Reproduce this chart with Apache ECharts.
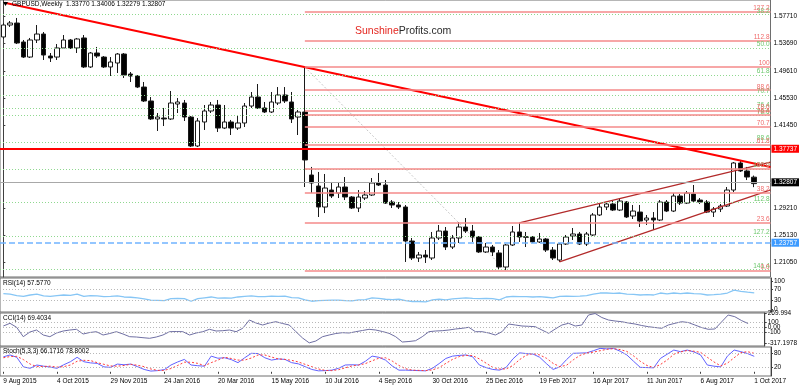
<!DOCTYPE html>
<html><head><meta charset="utf-8">
<script src="https://cdn.jsdelivr.net/npm/echarts@6/dist/echarts.min.js"></script>
<style>html,body{margin:0;padding:0;background:#fff}#c{width:800px;height:386px}</style>
</head><body><div id="c"></div>
<script>
// ---------- data ----------
const dateLabels = ['9 Aug 2015','4 Oct 2015','29 Nov 2015','24 Jan 2016','20 Mar 2016','15 May 2016','10 Jul 2016','4 Sep 2016','30 Oct 2016','25 Dec 2016','19 Feb 2017','16 Apr 2017','11 Jun 2017','6 Aug 2017','1 Oct 2017'];
const opens = [
1.5466,1.5644,1.5674,1.5391,1.5167,1.5421,1.5510,1.5182,1.5167,1.5302,
1.5421,1.5302,1.5451,1.5019,1.5227,1.5167,1.5019,1.5078,1.5212,1.4914,
1.4884,1.4720,1.4512,1.4244,1.4258,1.4244,1.4467,1.4482,1.4273,1.3841,
1.4199,1.4363,1.4452,1.4109,1.4199,1.4109,1.4184,1.4437,1.4571,1.4408,
1.4348,1.4482,1.4601,1.4497,1.4273,1.4348,1.3409,1.3245,1.2932,1.3185,
1.3140,1.3230,1.3081,1.2917,1.3066,1.3111,1.3290,1.3260,1.3006,1.2962,
1.2932,1.2425,1.2172,1.2217,1.2172,1.2470,1.2574,1.2336,1.2470,1.2634,
1.2574,1.2485,1.2262,1.2336,1.2247,1.2038,1.2366,1.2560,1.2480,1.2485,
1.2411,1.2455,1.2291,1.2142,1.2381,1.2500,1.2530,1.2381,1.2515,1.2813,
1.2932,1.2977,1.2887,1.3006,1.2798,1.2857,1.2738,1.2768,1.2738,1.3006,
1.2872,1.3096,1.2991,1.3126,1.3036,1.3006,1.2857,1.2902,1.2947,1.3185,
1.3588,1.3469,1.33770];
const closes = [
1.5644,1.5674,1.5376,1.5167,1.5421,1.5510,1.5197,1.5153,1.5302,1.5421,
1.5302,1.5436,1.5019,1.5227,1.5182,1.5019,1.5093,1.5212,1.4899,1.4884,
1.4720,1.4512,1.4244,1.4273,1.4244,1.4482,1.4497,1.4273,1.3841,1.4214,
1.4363,1.4452,1.4109,1.4199,1.4109,1.4184,1.4437,1.4571,1.4408,1.4348,
1.4497,1.4601,1.4512,1.4244,1.4348,1.3633,1.3290,1.2932,1.3215,1.3096,
1.3230,1.3081,1.2917,1.3081,1.3111,1.3290,1.3260,1.2991,1.2962,1.2932,
1.2425,1.2172,1.2217,1.2187,1.2470,1.2574,1.2336,1.2470,1.2634,1.2574,
1.2485,1.2262,1.2336,1.2262,1.2038,1.2366,1.2560,1.2485,1.2490,1.2411,
1.2455,1.2291,1.2172,1.2381,1.2485,1.2530,1.2381,1.2530,1.2813,1.2932,
1.2977,1.2887,1.3021,1.2783,1.2872,1.2723,1.2768,1.2738,1.3006,1.2872,
1.3096,1.2991,1.3140,1.3021,1.3006,1.2857,1.2902,1.2947,1.3185,1.3588,
1.3469,1.3379,1.32807];
const lows = [
1.5436,1.5615,1.5361,1.5153,1.5153,1.5376,1.5123,1.5093,1.5123,1.5287,
1.5287,1.5227,1.5004,1.5004,1.5153,1.5004,1.4884,1.4929,1.4855,1.4795,
1.4705,1.4497,1.4229,1.4065,1.4139,1.4229,1.4333,1.4214,1.3826,1.3826,
1.4080,1.4333,1.4050,1.4094,1.4005,1.4080,1.4124,1.4408,1.4393,1.4333,
1.4333,1.4452,1.4482,1.4184,1.4005,1.3230,1.3140,1.2783,1.2842,1.3066,
1.3066,1.3036,1.2902,1.2857,1.3036,1.3096,1.3245,1.2977,1.2917,1.2902,
1.2113,1.2142,1.2113,1.2098,1.2142,1.2440,1.2291,1.2306,1.2396,1.2545,
1.2411,1.2247,1.2247,1.2202,1.2008,1.1993,1.2351,1.2411,1.2336,1.2396,
1.2396,1.2262,1.2142,1.2113,1.2366,1.2440,1.2366,1.2351,1.2500,1.2798,
1.2887,1.2872,1.2872,1.2768,1.2753,1.2634,1.2664,1.2589,1.2723,1.2857,
1.2857,1.2962,1.2977,1.3006,1.2977,1.2842,1.2783,1.2857,1.2932,1.3155,
1.3454,1.3334,1.32279];
const highs = [
1.5674,1.5704,1.5749,1.5421,1.5451,1.5644,1.5540,1.5227,1.5361,1.5495,
1.5436,1.5451,1.5495,1.5242,1.5317,1.5182,1.5167,1.5227,1.5227,1.4944,
1.4899,1.4795,1.4571,1.4333,1.4408,1.4661,1.4556,1.4527,1.4288,1.4258,
1.4452,1.4497,1.4527,1.4452,1.4229,1.4303,1.4482,1.4646,1.4765,1.4497,
1.4646,1.4720,1.4720,1.4646,1.4378,1.5004,1.3529,1.3454,1.3424,1.3305,
1.3305,1.3379,1.3096,1.3185,1.3170,1.3364,1.3439,1.3334,1.3036,1.3006,
1.2962,1.2470,1.2262,1.2291,1.2560,1.2664,1.2634,1.2515,1.2708,1.2768,
1.2664,1.2500,1.2396,1.2366,1.2291,1.2381,1.2649,1.2694,1.2560,1.2500,
1.2545,1.2470,1.2336,1.2396,1.2515,1.2619,1.2560,1.2560,1.2842,1.2991,
1.3006,1.3021,1.3066,1.3021,1.2962,1.2962,1.2813,1.2857,1.3036,1.3036,
1.3140,1.3126,1.3170,1.3260,1.3066,1.3036,1.2932,1.2977,1.3230,1.3603,
1.3633,1.3529,1.34006];
const rsi = [
55,53,48,45,50,53,47,45,48,50,
49,53,45,48,47,44,45,47,43,42,
40,36,32,31,30,37,38,37,28,37,
40,43,39,40,39,43,45,47,44,44,
46,45,46,41,40,33,28,30,31,32,
32,30,29,33,34,40,38,35,34,35,
30,27,27,26,33,35,33,36,38,40,
38,37,38,37,33,43,45,44,44,43,
44,42,40,45,46,45,46,48,53,57,
57,56,57,53,52,50,51,50,57,54,
57,55,57,55,54,50,51,53,57,67,
63,60,57.577];
const cci = [
20,74,-6,-194,-100,-60,-160,-194,-120,-80,
-60,-46,-140,-110,-94,-160,-130,-94,-140,-194,
-200,-214,-226,-200,-160,-94,-90,-94,-160,-120,
-94,-46,-80,-74,-60,-94,-26,140,80,40,
80,106,70,40,-94,-220,-317.1978,-280,-194,-160,
-130,-114,-120,-94,-70,-46,-60,-90,-126,-194,
-300,-290,-274,-194,-94,-80,-74,-60,-40,-26,
-6,-94,-94,-120,-160,-94,60,40,20,14,
6,-60,-126,-40,40,74,20,40,240,269.994,
190,140,120,106,80,60,30,6,-10,-26,
40,74,106,90,40,-10,-46,-40,100,240,
206,130,69.4034];
const stochK = [
64,72,62,21,15,29,24,20,15,30,
43,62,43,38,36,21,19,33,30,33,
22,10,3,5,9,29,42,53,29,26,
24,67,58,60,52,39,60,79,78,60,
50,55,53,39,34,22,10,4,5,7,
15,29,30,29,45,67,62,50,25,7,
7,6,5,4,15,35,57,67,70,72,
64,29,18,10,7,19,55,81,78,76,
62,35,10,21,52,79,80,81,90,100,
98,100,88,72,45,19,18,17,57,75,
93,86,93,85,72,29,24,21,67,93,
86,78,66.1716];
const stochD = [
60,65,66,52,33,22,23,24,20,22,
29,45,49,48,39,32,25,24,27,32,
28,22,12,6,6,14,27,41,41,36,
26,39,50,62,57,50,50,59,72,72,
63,55,53,49,42,32,22,12,6,5,
9,17,25,29,35,47,58,60,46,27,
13,7,6,5,8,18,36,53,65,70,
69,55,37,19,12,12,27,52,71,78,
72,58,36,22,28,51,70,80,84,90,
96,99,95,87,68,45,27,18,31,50,
75,85,91,88,83,62,42,25,37,60,
82,86,78.8002];
const priceTicks = [1.5771,1.5369,1.4961,1.4553,1.4145,1.2921,1.2513,1.2105];
const rsiTicks = [100,70,30,0];
const cciTicks = [269.994,100,0,-100,-317.1978];
const stochTicks = [100,80,20,0];
// Fibonacci tools: anchors and ratios
const redFibHigh = 1.5018, redFibLow = 1.1986;          // Brexit-week high -> Jan 2017 low
const redFibRatios = ['127.2','112.8','100','88.6','78.6','76.4','70.7','61.8','50.0','38.2','23.6','0.0'];
const greenFibTop = 1.7192, greenFibBottom = 1.3503;    // long-term swing
const greenFibRatios = ['38.2','50.0','61.8','70.7','76.4','78.6','88.6','100.0','112.8','127.2','141.4'];
const levelRed = 1.37737, levelBid = 1.32807, levelBlue = 1.23757;
const trendLine = [[0.2,1.5975],[114.5,1.3528]];
const channelUpper = [[77,1.2694],[114.5,1.3600]];
const channelLower = [[83,1.2113],[114.5,1.3186]];
const fibDiagonal = [[45,1.5018],[75,1.1986]];
const fibStartIndex = 45;
const titleText = 'GBPUSD,Weekly  1.33770 1.34006 1.32279 1.32807';
const rsiTitle = 'RSI(14) 57.5770', cciTitle = 'CCI(14) 69.4034', stochTitle = 'Stoch(5,3,3) 66.1716 78.8002';

// ---------- chart ----------
const N = 115;
const cats = []; for (let i = 0; i < N; i++) cats.push(String(i));
const FONT = "'Liberation Sans', Arial, sans-serif";
const FS = 6.5;
const candles = opens.map((o,i)=>[o, closes[i], lows[i], highs[i]]);
const redPrices = redFibRatios.map(r => redFibLow + parseFloat(r)/100*(redFibHigh-redFibLow));
const greenPrices = greenFibRatios.map(r => greenFibTop - parseFloat(r)/100*(greenFibTop-greenFibBottom));

const gridBase = {left:0, right:29, show:true, borderColor:'#6e6e6e', borderWidth:1};
const hiddenCat = g => ({type:'category', gridIndex:g, data:cats, boundaryGap:true, axisLine:{show:false}, axisTick:{show:false}, axisLabel:{show:false}, splitLine:{show:false}});
const rightAxis = (g, min, max, ticks, fmt) => ({type:'value', gridIndex:g, position:'right', min, max, splitLine:{show:false},
  axisLine:{show:true, lineStyle:{color:'#404040'}},
  axisTick:{show:true, customValues:ticks, length:2, lineStyle:{color:'#404040'}},
  axisLabel:{customValues:ticks, formatter:fmt, fontSize:FS, color:'#000', margin:3, fontFamily:FONT}});
const dotted = (vals, color) => ({symbol:['none','none'], silent:true, label:{show:false},
  lineStyle:{color:color||'#b8b8b8', type:[1,2], width:1}, data: vals.map(v=>({yAxis:v}))});

const fibLabel = (text, color) => ({show:true, position:'insideEndTop', formatter:text, color, fontSize:FS, fontFamily:FONT, distance:[1,0], padding:0});
const boxLabel = (text, bg) => ({show:true, position:'end', formatter:text, color:'#fff', backgroundColor:bg, padding:[1,2,0,2], fontSize:FS, fontFamily:FONT, distance:1});

const markData = [];
greenFibRatios.forEach((r,k)=> markData.push({yAxis:greenPrices[k], lineStyle:{color:'#8fd88f', type:[1,2], width:1}, label:fibLabel(r,'#6cc86c')}));
redFibRatios.forEach((r,k)=> markData.push([{coord:[fibStartIndex, redPrices[k]], lineStyle:{color:'#f48a8a', type:'solid', width:1.5}, label:fibLabel(r,'#f06a6a')},{coord:[N-0.5, redPrices[k]]}]));
markData.push({yAxis:levelRed, lineStyle:{color:'#ff0000', width:2, type:'solid'}, label:boxLabel(levelRed.toFixed(5), '#ff0000')});
markData.push({yAxis:levelBid, lineStyle:{color:'#a8a8a8', width:1, type:'solid'}, label:boxLabel(levelBid.toFixed(5), '#000')});
markData.push({yAxis:levelBlue, lineStyle:{color:'#70b4ff', width:1.5, type:[6,3]}, label:boxLabel(levelBlue.toFixed(5), '#3d9bff')});

const option = {
  animation:false,
  backgroundColor:'#fff',
  grid:[
    Object.assign({top:0, height:277}, gridBase),
    Object.assign({top:278, height:34}, gridBase),
    Object.assign({top:313, height:33}, gridBase),
    Object.assign({top:347, height:29}, gridBase)
  ],
  xAxis:[
    hiddenCat(0),
    {type:'value', gridIndex:0, min:-0.5, max:N-0.5, show:false},
    hiddenCat(1), hiddenCat(2),
    {type:'category', gridIndex:3, data:cats, boundaryGap:true, position:'bottom',
     axisLine:{show:false},
     axisTick:{show:true, interval:(i)=> i%8===0 && i/8 < dateLabels.length, length:2, alignWithLabel:true, lineStyle:{color:'#404040'}},
     axisLabel:{interval:0, align:'left', margin:2, fontSize:FS, color:'#000', fontFamily:FONT,
       formatter:(v,i)=> (i%8===0 && i/8 < dateLabels.length) ? dateLabels[i/8] : ''},
     splitLine:{show:false}}
  ],
  yAxis:[
    rightAxis(0, 1.1889, 1.6017, priceTicks, v=>v.toFixed(5)),
    rightAxis(1, -10, 110, rsiTicks, v=>String(v)),
    rightAxis(2, -380, 280, cciTicks, v=> v===0 ? '0.00' : String(v)),
    rightAxis(3, -18, 106, stochTicks, v=>String(v))
  ],
  series:[
    {type:'line', xAxisIndex:1, yAxisIndex:0, data:fibDiagonal, symbol:'none', z:1,
     lineStyle:{color:'#c8c8c8', width:1, type:[2,2]},
     markLine:{symbol:['none','none'], silent:true, data:markData}},
    {type:'candlestick', xAxisIndex:0, yAxisIndex:0, data:candles, barWidth:5, z:3,
     itemStyle:{color:'#ffffff', color0:'#000000', borderColor:'#1a1a1a', borderColor0:'#1a1a1a', borderWidth:1}},
    {type:'line', xAxisIndex:1, yAxisIndex:0, data:trendLine, symbol:'none', z:4, lineStyle:{color:'#ff0000', width:2}},
    {type:'line', xAxisIndex:1, yAxisIndex:0, data:channelUpper, symbol:'none', z:4, lineStyle:{color:'#b22a2a', width:1.3}},
    {type:'line', xAxisIndex:1, yAxisIndex:0, data:channelLower, symbol:'none', z:4, lineStyle:{color:'#b22a2a', width:1.3}},
    {type:'line', xAxisIndex:2, yAxisIndex:1, data:rsi, symbol:'none', lineStyle:{color:'#87c6f5', width:1.3}, markLine:dotted([70,30])},
    {type:'line', xAxisIndex:3, yAxisIndex:2, data:cci, symbol:'none', lineStyle:{color:'#6f6fa3', width:1}, markLine:dotted([100,0,-100])},
    {type:'line', xAxisIndex:4, yAxisIndex:3, data:stochK, symbol:'none', lineStyle:{color:'#6161ff', width:1}, markLine:dotted([80,20])},
    {type:'line', xAxisIndex:4, yAxisIndex:3, data:stochD, symbol:'none', lineStyle:{color:'#ff3b3b', width:1, type:[2,2]}}
  ],
  graphic:[
    {type:'polygon', shape:{points:[[3,2],[8,2],[5.5,6]]}, style:{fill:'#000'}, z:10},
    {type:'text', left:12, top:1, z:10, style:{text:titleText, fill:'#000', fontSize:FS, fontFamily:FONT}},
    {type:'text', left:355, top:26, z:10, style:{text:'{a|Sunshine}{b|Profits.com}', fontFamily:FONT,
      rich:{a:{fill:'#e4261f', fontSize:10.5, fontFamily:FONT}, b:{fill:'#2b2b2b', fontSize:10.5, fontFamily:FONT}}}},
    {type:'text', left:3, top:280, z:10, style:{text:rsiTitle, fill:'#000', fontSize:FS, fontFamily:FONT}},
    {type:'text', left:3, top:315, z:10, style:{text:cciTitle, fill:'#000', fontSize:FS, fontFamily:FONT}},
    {type:'text', left:3, top:348, z:10, style:{text:stochTitle, fill:'#000', fontSize:FS, fontFamily:FONT}}
  ]
};
const chart = echarts.init(document.getElementById('c'), null, {renderer:'canvas'});
chart.setOption(option);
</script></body></html>
